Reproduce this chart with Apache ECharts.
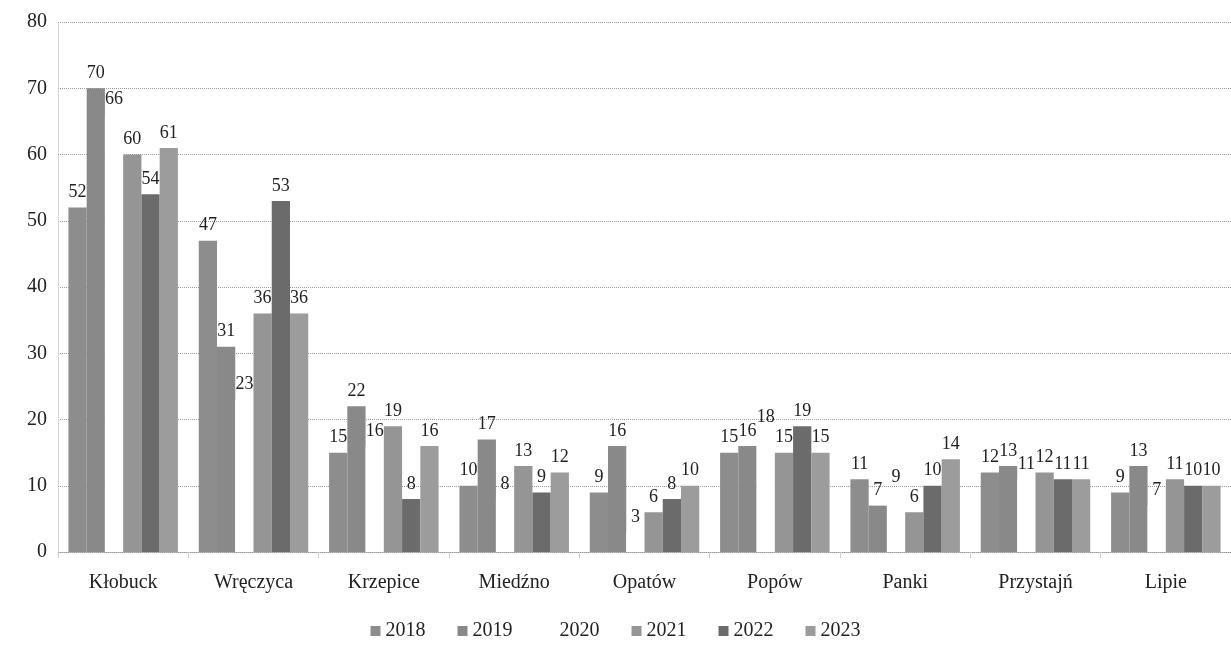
<!DOCTYPE html>
<html>
<head>
<meta charset="utf-8">
<script src="https://cdn.jsdelivr.net/npm/echarts@6/dist/echarts.min.js"></script>
<style>
html,body{margin:0;padding:0;background:#fff;}
#c{width:1231px;height:646px;}
</style>
</head>
<body>
<div id="c"></div>
<script>
const categories = ['Kłobuck','Wręczyca','Krzepice','Miedźno','Opatów','Popów','Panki','Przystajń','Lipie'];
const seriesNames = ['2018','2019','2020','2021','2022','2023'];
const v2018 = [52, 47, 15, 10, 9, 15, 11, 12, 9];
const v2019 = [70, 31, 22, 17, 16, 16, 7, 13, 13];
const v2020 = [66, 23, 16, 8, 3, 18, 9, 11, 7];
const v2021 = [60, 36, 19, 13, 6, 15, 6, 12, 11];
const v2022 = [54, 53, 8, 9, 8, 19, 10, 11, 10];
const v2023 = [61, 36, 16, 12, 10, 15, 14, 11, 10];
const yTicks = [0, 10, 20, 30, 40, 50, 60, 70, 80];

const values = [v2018, v2019, v2020, v2021, v2022, v2023];
const colors = ['#8d8d8d', '#898989', '#ffffff', '#959595', '#6b6b6b', '#9c9c9c'];
const font = '"Liberation Serif", "DejaVu Serif", serif';

const chart = echarts.init(document.getElementById('c'));
chart.setOption({
  animation: false,
  backgroundColor: '#fff',
  textStyle: { fontFamily: font },
  grid: { left: 58, right: -15, top: 22, bottom: 94, containLabel: false },
  legend: {
    data: seriesNames,
    bottom: 0,
    left: 'center',
    itemWidth: 10,
    itemHeight: 10,
    itemGap: 32,
    icon: 'rect',
    textStyle: { fontFamily: font, fontSize: 20, color: '#222' }
  },
  xAxis: {
    type: 'category',
    data: categories,
    axisLine: { show: true, lineStyle: { color: '#999', type: 'dotted', width: 1 } },
    axisTick: { show: true, length: 6, lineStyle: { color: '#ccc' } },
    axisLabel: { fontFamily: font, fontSize: 20, color: '#222', margin: 21 },
    splitLine: { show: false }
  },
  yAxis: {
    type: 'value',
    min: yTicks[0],
    max: yTicks[yTicks.length - 1],
    interval: 10,
    axisLine: { show: true, lineStyle: { color: '#ccc', type: 'dotted' } },
    axisTick: { show: false },
    axisLabel: { fontFamily: font, fontSize: 20, color: '#222', margin: 11 },
    splitLine: { show: true, lineStyle: { color: '#9a9a9a', type: 'dotted', width: 1 } }
  },
  series: seriesNames.map((name, i) => ({
    name: name,
    type: 'bar',
    data: values[i],
    barGap: '0%',
    barCategoryGap: '16%',
    itemStyle: { color: colors[i] },
    label: {
      show: true,
      position: 'top',
      distance: 6,
      fontFamily: font,
      fontSize: 18,
      color: '#222'
    }
  }))
});
</script>
</body>
</html>
